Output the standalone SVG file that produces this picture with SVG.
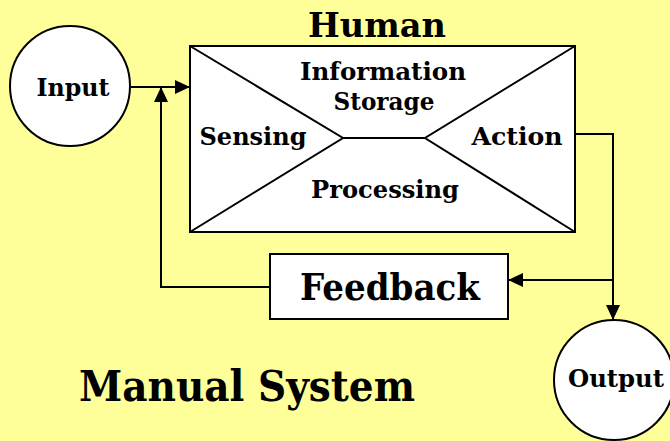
<svg xmlns="http://www.w3.org/2000/svg" width="670" height="441" viewBox="0 0 670 441">
<defs>
<marker id="ah" markerWidth="15" markerHeight="14" refX="15" refY="7" orient="auto" markerUnits="userSpaceOnUse">
<path d="M0,0 L15,7 L0,14 Z" fill="#000"/>
</marker>
<style>
.t{font-family:"DejaVu Serif","Liberation Serif",serif;font-weight:bold;fill:#000;text-anchor:middle}
.s{font-size:24px}
.box{fill:#fff;stroke:#000;stroke-width:2}
.ln{fill:none;stroke:#000;stroke-width:2}
</style>
</defs>
<rect width="670" height="441" fill="#FFFF99"/>
<g id="human">
<rect class="box" x="190" y="46" width="385" height="186"/>
<path class="ln" d="M190,46 L343,138 L190,232 M575,46 L425,138 L575,232 M343,138 L425,138"/>
<text class="t" x="377" y="37" font-size="33" textLength="138" lengthAdjust="spacingAndGlyphs">Human</text>
<text class="t s" x="383" y="80" textLength="166" lengthAdjust="spacingAndGlyphs">Information</text>
<text class="t s" x="384" y="110" textLength="101" lengthAdjust="spacingAndGlyphs">Storage</text>
<text class="t s" x="253" y="145" textLength="107" lengthAdjust="spacingAndGlyphs">Sensing</text>
<text class="t s" x="517" y="145" textLength="91" lengthAdjust="spacingAndGlyphs">Action</text>
<text class="t s" x="385" y="198" textLength="148" lengthAdjust="spacingAndGlyphs">Processing</text>
</g>
<g id="input">
<circle class="box" cx="70" cy="86" r="60"/>
<text class="t s" x="73" y="96" textLength="73" lengthAdjust="spacingAndGlyphs">Input</text>
</g>
<g id="output">
<circle class="box" cx="614" cy="380" r="60"/>
<text class="t s" x="616" y="387" textLength="96" lengthAdjust="spacingAndGlyphs">Output</text>
</g>
<g id="feedback">
<rect class="box" x="270" y="254" width="238" height="65"/>
<text class="t" x="390" y="300" font-size="37" textLength="180" lengthAdjust="spacingAndGlyphs">Feedback</text>
</g>
<g id="title">
<text class="t" x="247" y="401" font-size="43" textLength="336" lengthAdjust="spacingAndGlyphs">Manual System</text>
</g>
<g id="connectors">
<path class="ln" d="M130,87 L190,87" marker-end="url(#ah)"/>
<path class="ln" d="M161,287 L270,287 M161,288 L161,87" marker-end="url(#ah)"/>
<path class="ln" d="M575,134 L613,134 L613,320" marker-end="url(#ah)"/>
<path class="ln" d="M613,280 L508,280" marker-end="url(#ah)"/>
</g>
</svg>
